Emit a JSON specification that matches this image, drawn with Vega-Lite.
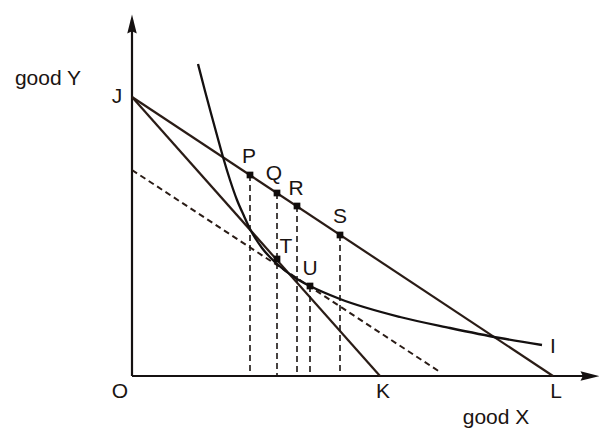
{
  "$schema": "https://vega.github.io/schema/vega-lite/v6.json",
  "width": 467,
  "height": 361,
  "autosize": {"type": "none"},
  "padding": {"left": 132, "top": 15, "right": 0, "bottom": 54},
  "background": "white",
  "config": {"view": {"stroke": null}},
  "datasets": {
    "axes": [
      {"x": 0, "y": 0, "x2": 462, "y2": 0},
      {"x": 0, "y": 0, "x2": 0, "y2": 356}
    ],
    "budget": [
      {"line": "JK", "x": 0, "y": 279},
      {"line": "JK", "x": 248, "y": 0},
      {"line": "JL", "x": 0, "y": 279},
      {"line": "JL", "x": 421, "y": 0}
    ],
    "compensated": [
      {"x": 0, "y": 206},
      {"x": 308, "y": 4}
    ],
    "curve": [
      {"x": 66, "y": 312},
      {"x": 73, "y": 285},
      {"x": 80, "y": 259},
      {"x": 86, "y": 237},
      {"x": 91, "y": 219},
      {"x": 98, "y": 196},
      {"x": 105, "y": 176},
      {"x": 112, "y": 160},
      {"x": 118, "y": 147},
      {"x": 130, "y": 128},
      {"x": 145, "y": 112},
      {"x": 165, "y": 97},
      {"x": 178, "y": 90},
      {"x": 208, "y": 77},
      {"x": 268, "y": 59},
      {"x": 318, "y": 48},
      {"x": 368, "y": 38},
      {"x": 410, "y": 31}
    ],
    "bundles": [
      {"name": "P", "x": 118, "y": 201, "drop": true},
      {"name": "Q", "x": 145, "y": 183, "drop": true},
      {"name": "R", "x": 165, "y": 170, "drop": true},
      {"name": "S", "x": 208, "y": 141, "drop": true},
      {"name": "T", "x": 145, "y": 117, "drop": false},
      {"name": "U", "x": 178, "y": 90, "drop": true}
    ],
    "labels": [
      {"text": "good Y", "x": -84, "y": 291},
      {"text": "J", "x": -15, "y": 273},
      {"text": "P", "x": 117, "y": 213},
      {"text": "Q", "x": 142, "y": 196},
      {"text": "R", "x": 164, "y": 181},
      {"text": "S", "x": 208, "y": 153},
      {"text": "T", "x": 154, "y": 123},
      {"text": "U", "x": 178, "y": 101},
      {"text": "I", "x": 421, "y": 23},
      {"text": "O", "x": -12, "y": -22},
      {"text": "K", "x": 251, "y": -22},
      {"text": "L", "x": 424, "y": -22},
      {"text": "good X", "x": 364, "y": -48}
    ]
  },
  "encoding": {
    "x": {"field": "x", "type": "quantitative", "scale": {"domain": [0, 467], "nice": false, "zero": false}, "axis": null},
    "y": {"field": "y", "type": "quantitative", "scale": {"domain": [0, 361], "nice": false, "zero": false}, "axis": null}
  },
  "layer": [
    {
      "data": {"name": "axes"},
      "mark": {"type": "rule", "color": "#151111", "strokeWidth": 2.2},
      "encoding": {
        "x2": {"field": "x2"},
        "y2": {"field": "y2"}
      }
    },
    {
      "data": {"values": [{"x": 0, "y": 352}]},
      "mark": {"type": "point", "shape": "M0,-1L-0.5,1L0,0.75L0.5,1Z", "filled": true, "color": "#151111", "opacity": 1, "size": 361, "angle": 0},
      "encoding": {}
    },
    {
      "data": {"values": [{"x": 458, "y": 0}]},
      "mark": {"type": "point", "shape": "M0,-1L-0.5,1L0,0.75L0.5,1Z", "filled": true, "color": "#151111", "opacity": 1, "size": 361, "angle": 90},
      "encoding": {}
    },
    {
      "data": {"name": "budget"},
      "mark": {"type": "line", "color": "#2a1c16", "strokeWidth": 2.2},
      "encoding": {"detail": {"field": "line"}}
    },
    {
      "data": {"name": "compensated"},
      "mark": {"type": "line", "color": "#2a1c16", "strokeWidth": 2, "strokeDash": [6, 4]},
      "encoding": {}
    },
    {
      "data": {"name": "curve"},
      "mark": {"type": "line", "color": "#141010", "strokeWidth": 2.3, "interpolate": "monotone"},
      "encoding": {}
    },
    {
      "data": {"name": "bundles"},
      "transform": [{"filter": "datum.drop"}],
      "mark": {"type": "rule", "color": "#1a1412", "strokeWidth": 1.6, "strokeDash": [6, 4]},
      "encoding": {"y2": {"datum": 0}}
    },
    {
      "data": {"name": "bundles"},
      "mark": {"type": "point", "shape": "square", "filled": true, "color": "#100c0b", "opacity": 1, "size": 45},
      "encoding": {}
    },
    {
      "data": {"name": "labels"},
      "mark": {"type": "text", "font": "Liberation Sans", "fontSize": 21, "color": "#1a1412", "align": "center", "baseline": "alphabetic"},
      "encoding": {"text": {"field": "text"}}
    }
  ]
}
